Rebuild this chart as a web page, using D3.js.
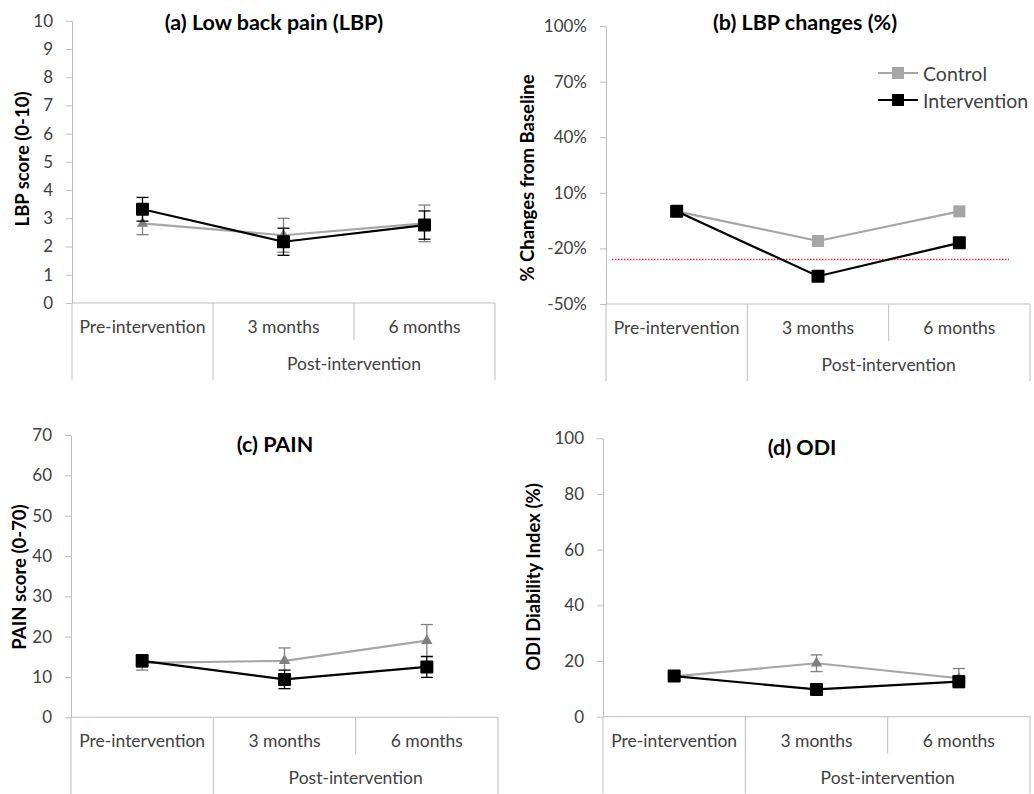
<!DOCTYPE html>
<html>
<head>
<meta charset="utf-8">
<script src="https://cdn.jsdelivr.net/npm/d3@7/dist/d3.min.js"></script>
<style>
  body { margin: 0; background: #fff; }
  text { font-family: Lato, "Open Sans", sans-serif; }
</style>
</head>
<body>
<svg id="chart" width="1034" height="794"></svg>
<script>
// ---- data ----
const categories = ['Pre-intervention', '3 months', '6 months'];
const groupLabel = 'Post-intervention';
const seriesNames = ['Control', 'Intervention'];

const lbpControl     = [2.82, 2.40, 2.82];
const lbpControlErr  = [0.40, 0.60, 0.65];
const lbpInterv      = [3.32, 2.17, 2.76];
const lbpIntervErr   = [0.42, 0.48, 0.50];

const changeControl  = [0, -16, 0];
const changeInterv   = [0, -35, -17];
const changeThreshold = -26;

const painControl    = [13.5, 14.0, 19.0];
const painControlErr = [1.8, 3.2, 4.0];
const painInterv     = [14.0, 9.4, 12.5];
const painIntervErr  = [1.5, 2.3, 2.6];

const odiControl     = [14.5, 19.2, 13.8];
const odiControlErr  = [1.5, 3.0, 3.5];
const odiInterv      = [14.6, 9.8, 12.6];
const odiIntervErr   = [1.5, 1.5, 1.5];

const lbpTicks    = d3.range(0, 11, 1);
const changeTicks = [-50, -20, 10, 40, 70, 100];
const painTicks   = d3.range(0, 71, 10);
const odiTicks    = d3.range(0, 101, 20);

// ---- styles ----
const AXIS = '#bfbfbf';
const TXT = '#404040';
const CTRL_LINE = '#a6a6a6';
const CTRL_TRI = '#808080';

const svg = d3.select('#chart');

function drawPanel(p) {
    const g = svg.append('g');
    const x = d3.scaleBand().domain(categories).range(p.xr);
    const y = d3.scaleLinear().domain(p.domain).range(p.yr);
    const cx = c => x(c) + x.bandwidth() / 2;
    const y0 = p.yr[0];

    // y axis
    const ax = g.append('g').attr('transform', `translate(${p.xr[0]},0)`)
        .call(d3.axisLeft(y).tickValues(p.ticks).tickFormat(p.fmt)
            .tickSize(6).tickSizeOuter(0).tickPadding(13));
    ax.select('.domain').attr('stroke', AXIS);
    ax.selectAll('.tick line').attr('stroke', AXIS);
    ax.selectAll('.tick text').attr('fill', TXT).attr('font-size', '17px');

    // category axis: baseline and dividers
    g.append('line').attr('x1', p.xr[0]).attr('x2', p.xr[1])
        .attr('y1', y0).attr('y2', y0).attr('stroke', AXIS);
    const fullDiv = [p.xr[0], x(categories[1]), p.xr[1]];
    fullDiv.forEach(xx => g.append('line').attr('x1', xx).attr('x2', xx)
        .attr('y1', y0).attr('y2', y0 + 77).attr('stroke', AXIS));
    g.append('line').attr('x1', x(categories[2])).attr('x2', x(categories[2]))
        .attr('y1', y0).attr('y2', y0 + 37).attr('stroke', AXIS);

    categories.forEach(c => g.append('text')
        .attr('x', cx(c)).attr('y', y0 + 30)
        .attr('text-anchor', 'middle').attr('fill', TXT).attr('font-size', '17.5px')
        .text(c));
    g.append('text')
        .attr('x', (x(categories[1]) + p.xr[1]) / 2).attr('y', y0 + 67)
        .attr('text-anchor', 'middle').attr('fill', TXT).attr('font-size', '17.5px')
        .text(groupLabel);

    // title and y label
    g.append('text').attr('x', p.titleX).attr('y', p.titleY)
        .attr('text-anchor', 'middle').attr('font-weight', 'bold')
        .attr('font-size', '21.5px').attr('fill', '#000').text(p.title);
    g.append('text')
        .attr('transform', `translate(${p.labelX},${p.labelY}) rotate(-90)`)
        .attr('text-anchor', 'middle').attr('dominant-baseline', 'central')
        .attr('font-weight', 'bold').attr('font-size', '18.5px').attr('fill', '#000')
        .text(p.yLabel);

    if (p.threshold !== undefined) {
        g.append('line')
            .attr('x1', p.xr[0] + 6).attr('x2', p.xr[1] - 21)
            .attr('y1', y(p.threshold)).attr('y2', y(p.threshold))
            .attr('stroke', '#ff3030').attr('stroke-width', 1.6)
            .attr('stroke-dasharray', '1.5,1.5');
    }

    const line = d3.line().x((d, i) => cx(categories[i])).y(d => y(d));

    // control series
    if (p.ctrlErr) drawErr(g, p.ctrl, p.ctrlErr, cx, y, CTRL_TRI);
    g.append('path').datum(p.ctrl).attr('d', line)
        .attr('fill', 'none').attr('stroke', CTRL_LINE).attr('stroke-width', 2.2);
    if (p.ctrlShape === 'square') {
        g.selectAll(null).data(p.ctrl).join('rect')
            .attr('x', (d, i) => cx(categories[i]) - 6).attr('y', d => y(d) - 6)
            .attr('width', 12).attr('height', 12).attr('fill', CTRL_LINE);
    } else {
        const tri = d3.symbol().type(d3.symbolTriangle).size(55);
        g.selectAll(null).data(p.ctrl).join('path')
            .attr('d', tri)
            .attr('transform', (d, i) => `translate(${cx(categories[i])},${y(d)})`)
            .attr('fill', CTRL_TRI);
    }

    // intervention series
    if (p.intErr) drawErr(g, p.int, p.intErr, cx, y, '#000');
    g.append('path').datum(p.int).attr('d', line)
        .attr('fill', 'none').attr('stroke', '#000').attr('stroke-width', 2.2);
    g.selectAll(null).data(p.int).join('rect')
        .attr('x', (d, i) => cx(categories[i]) - 6.5).attr('y', d => y(d) - 6.5)
        .attr('width', 13).attr('height', 13).attr('rx', 1).attr('fill', '#000');

    if (p.legend) drawLegend(g, p.legend);
}

function drawErr(g, vals, errs, cx, y, color) {
    vals.forEach((v, i) => {
        const xx = cx(categories[i]);
        const lo = y(v - errs[i]), hi = y(v + errs[i]);
        g.append('line').attr('x1', xx).attr('x2', xx).attr('y1', lo).attr('y2', hi)
            .attr('stroke', color).attr('stroke-width', 1.3);
        [lo, hi].forEach(yy => g.append('line')
            .attr('x1', xx - 6).attr('x2', xx + 6).attr('y1', yy).attr('y2', yy)
            .attr('stroke', color).attr('stroke-width', 1.3));
    });
}

function drawLegend(g, lg) {
    const colors = [CTRL_LINE, '#000'];
    seriesNames.forEach((name, i) => {
        const yy = lg.y + i * lg.dy;
        g.append('line').attr('x1', lg.x).attr('x2', lg.x + 40)
            .attr('y1', yy).attr('y2', yy).attr('stroke', colors[i]).attr('stroke-width', 2.2);
        g.append('rect').attr('x', lg.x + 14).attr('y', yy - 6)
            .attr('width', 12).attr('height', 12).attr('fill', colors[i]);
        g.append('text').attr('x', lg.x + 45).attr('y', yy)
            .attr('dominant-baseline', 'central').attr('font-size', '19.5px')
            .attr('fill', TXT).text(name);
    });
}

drawPanel({
    title: '(a) Low back pain (LBP)', titleX: 274, titleY: 30,
    yLabel: 'LBP score (0-10)', labelX: 22, labelY: 159,
    domain: [0, 10], ticks: lbpTicks, fmt: d => d,
    xr: [72, 495], yr: [303, 20.7],
    ctrl: lbpControl, ctrlErr: lbpControlErr, int: lbpInterv, intErr: lbpIntervErr
});

drawPanel({
    title: '(b) LBP changes (%)', titleX: 805, titleY: 30,
    yLabel: '% Changes from Baseline', labelX: 527, labelY: 178,
    domain: [-50, 100], ticks: changeTicks, fmt: d => d + '%',
    xr: [606, 1030], yr: [304, 26],
    ctrl: changeControl, int: changeInterv, ctrlShape: 'square',
    threshold: changeThreshold,
    legend: { x: 878, y: 73, dy: 27 }
});

drawPanel({
    title: '(c) PAIN', titleX: 275, titleY: 452,
    yLabel: 'PAIN score (0-70)', labelX: 19, labelY: 577,
    domain: [0, 70], ticks: painTicks, fmt: d => d,
    xr: [71, 498], yr: [717.3, 435],
    ctrl: painControl, ctrlErr: painControlErr, int: painInterv, intErr: painIntervErr
});

drawPanel({
    title: '(d) ODI', titleX: 802, titleY: 455,
    yLabel: 'ODI Diability Index (%)', labelX: 533, labelY: 577,
    domain: [0, 100], ticks: odiTicks, fmt: d => d,
    xr: [603, 1030], yr: [716.7, 438.3],
    ctrl: odiControl, ctrlErr: odiControlErr, int: odiInterv, intErr: odiIntervErr
});
</script>
</body>
</html>
